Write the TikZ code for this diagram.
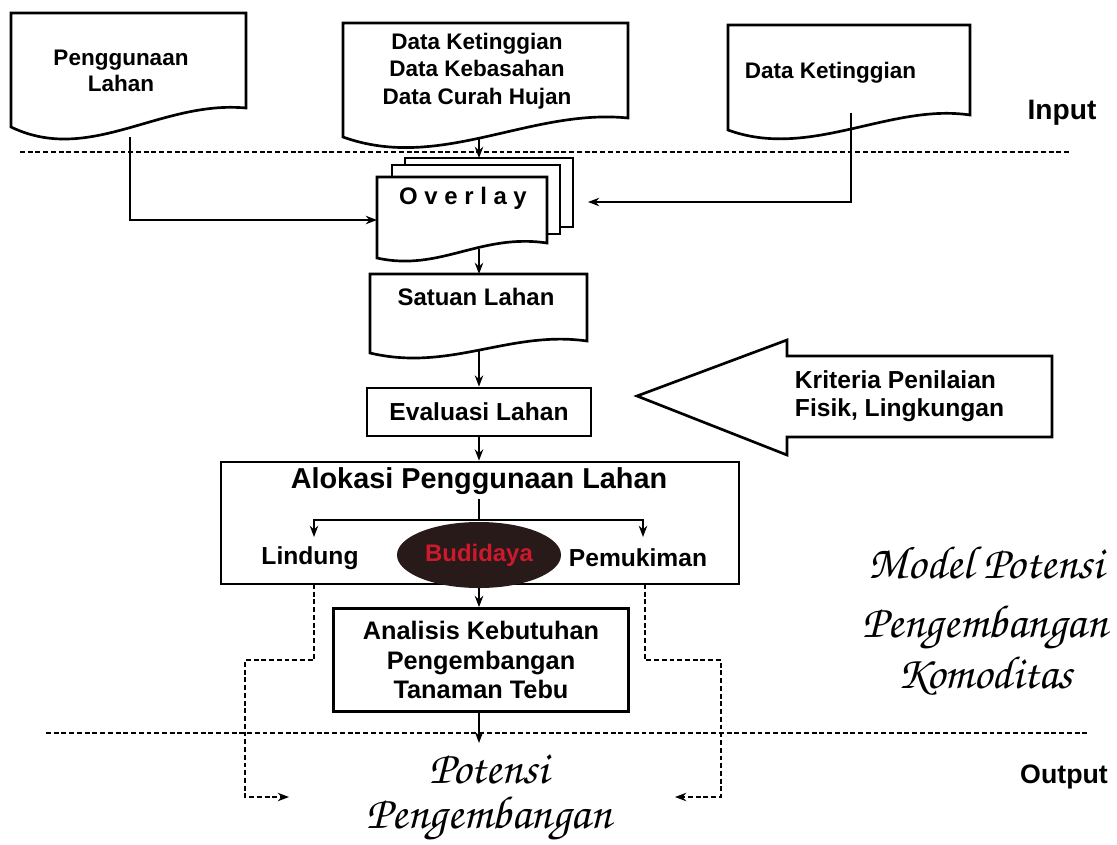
\documentclass[tikz,border=0pt]{standalone}
\usepackage{fontspec}
\setmainfont{Liberation Sans}
\newfontfamily\chorusfnt{texgyrechorus-mediumitalic.otf}
\usetikzlibrary{arrows.meta,shapes.geometric}
\definecolor{budidark}{RGB}{40,26,24}
\definecolor{budired}{RGB}{205,25,45}
\begin{document}
\begin{tikzpicture}[x=0.025cm, y=-0.025cm,
    box/.style={draw, line width=1.9pt, fill=white},
    lbl/.style={font=\bfseries\fontsize{17}{20}\selectfont, align=center},
    link/.style={line width=1.6pt, -{Stealth[length=8pt,width=6pt]}},
    dlink/.style={line width=1.9pt, dash pattern=on 3.5pt off 2pt, -{Stealth[length=8pt,width=6pt]}},
    sepline/.style={line width=1.9pt, dash pattern=on 3.5pt off 2pt},
    script/.style={font=\chorusfnt\fontsize{33}{39}\selectfont, inner sep=0pt, anchor=base}]
  \useasboundingbox (0,0) rectangle (1117,844);
  % input documents
  \draw[box] (11,13) -- (246,13) -- (246,108) .. controls (160,100) and (90,165) .. (11,127) -- cycle;
  \node[lbl, font=\bfseries\fontsize{16}{19}\selectfont] (guna) at (121,71) {Penggunaan\\Lahan};
  \draw[box] (343,23) -- (628,23) -- (628,118) .. controls (530,108) and (440,172) .. (343,137) -- cycle;
  \node[lbl, font=\bfseries\fontsize{16}{19.5}\selectfont] (data) at (477,71) {Data Ketinggian\\Data Kebasahan\\Data Curah Hujan};
  \draw[box] (728,25) -- (970,25) -- (970,115) .. controls (890,103) and (810,160) .. (728,130) -- cycle;
  \node[lbl, font=\bfseries\fontsize{16}{19}\selectfont, anchor=west] (tinggi) at (740,73) {Data Ketinggian};
  \node[lbl, font=\bfseries\fontsize{20}{24}\selectfont] (input) at (1062,113) {Input};
  \draw[sepline] (20,152) -- (1070,152);
  % overlay stack
  \draw[box] (405,158) rectangle (573,227);
  \draw[box] (392,165) rectangle (560,234);
  \draw[box] (377,177) -- (547,177) -- (547,243) .. controls (480,233) and (440,272) .. (377,258) -- cycle;
  \node[lbl] (ovl) at (463,198) {O v e r l a y};
  \coordinate (d1bot) at (130,137);
  \coordinate (d2bot) at (479,139);
  \coordinate (d3bot) at (851,113);
  \coordinate (ovltop) at (479,158);
  \coordinate (ovlW) at (377,220);
  \coordinate (ovlE) at (588,202);
  \coordinate (ovlbot) at (479,249);
  \draw[link] (d2bot) -- (ovltop);
  \draw[link] (d1bot) |- (ovlW);
  \draw[link] (d3bot) |- (ovlE);
  % satuan lahan
  \draw[box] (370,274) -- (587,274) -- (587,341) .. controls (510,330) and (450,372) .. (370,353) -- cycle;
  \node[lbl] (sat) at (476,297) {Satuan Lahan};
  \coordinate (sattop) at (479,274);
  \coordinate (satbot) at (479,350);
  \draw[link] (ovlbot) -- (sattop);
  \node[box, lbl, font=\bfseries\fontsize{17.5}{20}\selectfont, minimum width=5.6cm, minimum height=1.2cm] (eval) at (479,412) {Evaluasi Lahan};
  \draw[link] (satbot) -- (eval);
  % kriteria arrow
  \draw[box] (637,396) -- (787,340) -- (787,356) -- (1052,356) -- (1052,437) -- (787,437) -- (787,455) -- cycle;
  \node[lbl, font=\bfseries\fontsize{17.5}{20}\selectfont, align=left, anchor=west] (krit) at (790,396) {Kriteria Penilaian\\Fisik, Lingkungan};
  % alokasi
  \node[box, minimum width=12.95cm, minimum height=3.05cm] (alok) at (480,523) {};
  \draw[link] (eval) -- (eval.south |- alok.north);
  \node[lbl, font=\bfseries\fontsize{20.5}{24}\selectfont] (alokt) at (479,481) {Alokasi Penggunaan Lahan};
  \coordinate (fork) at (479,520);
  \coordinate (lt) at (314,537);
  \coordinate (pt) at (643,537);
  \draw[line width=1.6pt] (alokt) -- (fork);
  \draw[link] (fork) -| (lt);
  \draw[link] (fork) -| (pt);
  \node[lbl, font=\bfseries\fontsize{17.5}{20}\selectfont] (lind) at (310,558) {Lindung};
  \node[lbl, font=\bfseries\fontsize{17.5}{20}\selectfont] (pemu) at (638,558) {Pemukiman};
  \node[ellipse, fill=budidark, text=budired, inner sep=0pt, minimum width=4.1cm, minimum height=1.65cm, font=\bfseries\fontsize{17}{20}\selectfont] (budi) at (479,555) {Budidaya};
  % analisis
  \node[box, lbl, font=\bfseries\fontsize{18}{21}\selectfont, minimum width=7.375cm, minimum height=2.575cm] (anal) at (481,660) {Analisis Kebutuhan\\Pengembangan\\Tanaman Tebu};
  \draw[link] (budi) -- (budi.south |- anal.north);
  \coordinate (lq) at (314,584);
  \coordinate (lend) at (289,797);
  \coordinate (rq) at (645,584);
  \coordinate (rend) at (675,797);
  \draw[dlink] (lq) -- (314,660) -| (245,797) -- (lend);
  \draw[dlink] (rq) -- (645,660) -| (721,797) -- (rend);
  % output
  \draw[sepline] (46,733) -- (1090,733);
  \coordinate (potin) at (479,743);
  \draw[link] (anal.south -| potin) -- (potin);
  \node[script] (pot1) at (489,783) {Potensi};
  \node[script] (pot2) at (489,828) {Pengembangan};
  \node[lbl, font=\bfseries\fontsize{19}{24}\selectfont] (output) at (1064,777) {Output};
  \node[script] (model1) at (986,578) {Model Potensi};
  \node[script] (model2) at (985,637) {Pengembangan};
  \node[script] (model3) at (985,688) {Komoditas};
\end{tikzpicture}
\end{document}
